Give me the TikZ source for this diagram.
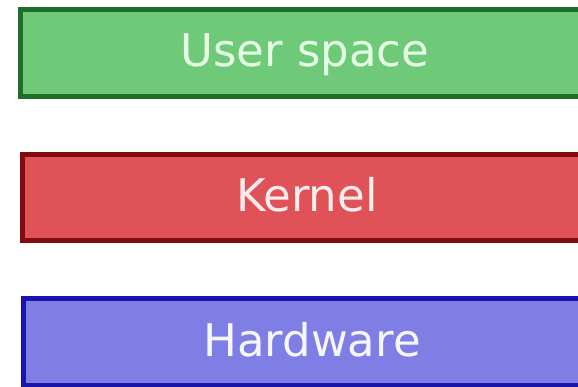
\documentclass[tikz,border=0pt]{standalone}
\usepackage{fontspec}
\setmainfont{DejaVu Sans}
\definecolor{ufill}{RGB}{110,202,120}
\definecolor{uline}{RGB}{30,110,42}
\definecolor{utext}{RGB}{228,255,228}
\definecolor{kfill}{RGB}{222,82,88}
\definecolor{kline}{RGB}{130,10,16}
\definecolor{ktext}{RGB}{255,236,236}
\definecolor{hfill}{RGB}{126,126,228}
\definecolor{hline}{RGB}{24,20,172}
\definecolor{htext}{RGB}{246,246,255}
\tikzset{
  layerbox/.style={draw, rectangle, line width=5pt, inner sep=0pt,
    minimum width=569pt, minimum height=87pt,
    text height=33pt, text depth=5pt,
    font=\fontsize{45}{54}\selectfont}
}
\begin{document}
\begin{tikzpicture}[x=1pt,y=-1pt]
\useasboundingbox (0,0) rectangle (578,387);
\node[layerbox, fill=ufill, draw=uline, text=utext] (user) at (305,53) {User space};
\node[layerbox, fill=kfill, draw=kline, text=ktext, minimum height=86pt] (kernel) at (307,197.5) {Kernel};
\node[layerbox, fill=hfill, draw=hline, text=htext, minimum width=577pt] (hw) at (312,342) {Hardware};
\end{tikzpicture}
\end{document}
